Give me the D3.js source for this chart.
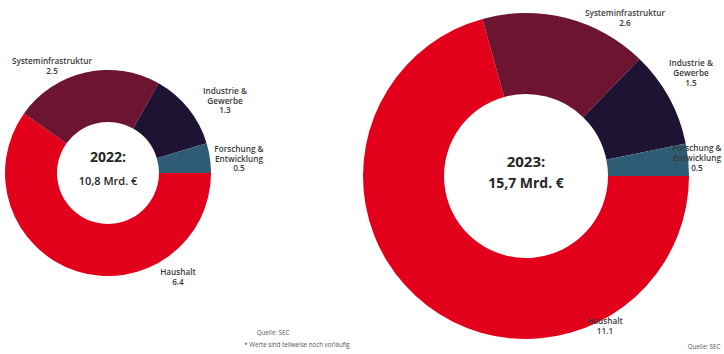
<!DOCTYPE html>
<html>
<head>
<meta charset="utf-8">
<script src="https://cdn.jsdelivr.net/npm/d3@7"></script>
<style>
  body { margin: 0; background: #fff; }
  svg { font-family: "Open Sans", sans-serif; }
</style>
</head>
<body>
<div id="chart"></div>
<script>
// Data
const categories = ['Haushalt', 'Systeminfrastruktur', 'Industrie & Gewerbe', 'Forschung & Entwicklung'];
const labelLines = [['Haushalt'], ['Systeminfrastruktur'], ['Industrie &', 'Gewerbe'], ['Forschung &', 'Entwicklung']];
const values2022 = [6.4, 2.5, 1.3, 0.5];
const values2023 = [11.1, 2.6, 1.5, 0.5];
const valueLabels2022 = ['6.4', '2.5', '1.3', '0.5'];
const valueLabels2023 = ['11.1', '2.6', '1.5', '0.5'];
const years = ['2022:', '2023:'];
const totals = ['10,8 Mrd. €', '15,7 Mrd. €'];
const colors = ['#e2001a', '#6d1530', '#1f1333', '#2f5c75'];

const width = 724;
const height = 354;

const svg = d3.select('#chart')
    .append('svg')
        .attr('width', width)
        .attr('height', height);

const colorScale = d3.scaleOrdinal()
    .domain(categories)
    .range(colors);

// start at 3 o'clock, clockwise
const pie = d3.pie()
    .sort(null)
    .startAngle(Math.PI / 2)
    .endAngle(Math.PI / 2 + 2 * Math.PI);

// label offsets relative to donut centre (manually placed in original)
const donuts = [
    {
        values: values2022, valueLabels: valueLabels2022, year: years[0], total: totals[0],
        cx: 108, cy: 173, outer: 103, inner: 51,
        labelPos: [[70, 102], [-56, -109], [117, -79], [131, -21]],
        lineH: 9.5, fontSize: 8.2,
        yearSize: 14, yearY: -16, totalSize: 11, totalY: 8, totalWeight: 600
    },
    {
        values: values2023, valueLabels: valueLabels2023, year: years[1], total: totals[1],
        cx: 526, cy: 176, outer: 163, inner: 82,
        labelPos: [[79, 148], [99, -160], [165, -110], [171, -25]],
        lineH: 10, fontSize: 8.2,
        yearSize: 15, yearY: -14, totalSize: 14, totalY: 7, totalWeight: 700
    }
];

donuts.forEach(cfg => {
    const g = svg.append('g')
        .attr('transform', `translate(${cfg.cx}, ${cfg.cy})`);

    const arc = d3.arc()
        .innerRadius(cfg.inner)
        .outerRadius(cfg.outer);

    const arcs = pie(cfg.values);

    g.append('g')
        .attr('class', 'slices')
        .selectAll('path')
        .data(arcs)
        .join('path')
            .attr('d', arc)
            .attr('fill', (d, i) => colorScale(categories[i]));

    // Centre text
    g.append('text')
        .attr('text-anchor', 'middle')
        .attr('y', cfg.yearY)
        .attr('dy', '0.35em')
        .attr('font-size', cfg.yearSize)
        .attr('font-weight', 700)
        .attr('fill', '#262626')
        .text(cfg.year);
    g.append('text')
        .attr('text-anchor', 'middle')
        .attr('y', cfg.totalY)
        .attr('dy', '0.35em')
        .attr('font-size', cfg.totalSize)
        .attr('font-weight', cfg.totalWeight)
        .attr('fill', '#262626')
        .text(cfg.total);

    // Slice labels
    const labels = g.append('g')
        .attr('class', 'labels')
        .attr('fill', '#3a3a3a')
        .attr('font-size', cfg.fontSize)
        .attr('font-weight', 600)
        .attr('text-anchor', 'middle');

    arcs.forEach((d, i) => {
        const lines = labelLines[i].concat([cfg.valueLabels[i]]);
        const t = labels.append('text')
            .attr('x', cfg.labelPos[i][0])
            .attr('y', cfg.labelPos[i][1]);
        lines.forEach((line, j) => {
            t.append('tspan')
                .attr('x', cfg.labelPos[i][0])
                .attr('dy', j === 0 ? 0 : cfg.lineH)
                .text(line);
        });
    });
});

// Footnotes
svg.append('text')
    .attr('x', 273).attr('y', 335)
    .attr('text-anchor', 'middle')
    .attr('font-size', 6.2)
    .attr('fill', '#555')
    .text('Quelle: SEC');
svg.append('text')
    .attr('x', 297).attr('y', 347)
    .attr('text-anchor', 'middle')
    .attr('font-size', 6.2)
    .attr('fill', '#555')
    .text('* Werte sind teilweise noch vorläufig');
svg.append('text')
    .attr('x', 704).attr('y', 349)
    .attr('text-anchor', 'middle')
    .attr('font-size', 6.2)
    .attr('fill', '#555')
    .text('Quelle: SEC');
</script>
</body>
</html>
